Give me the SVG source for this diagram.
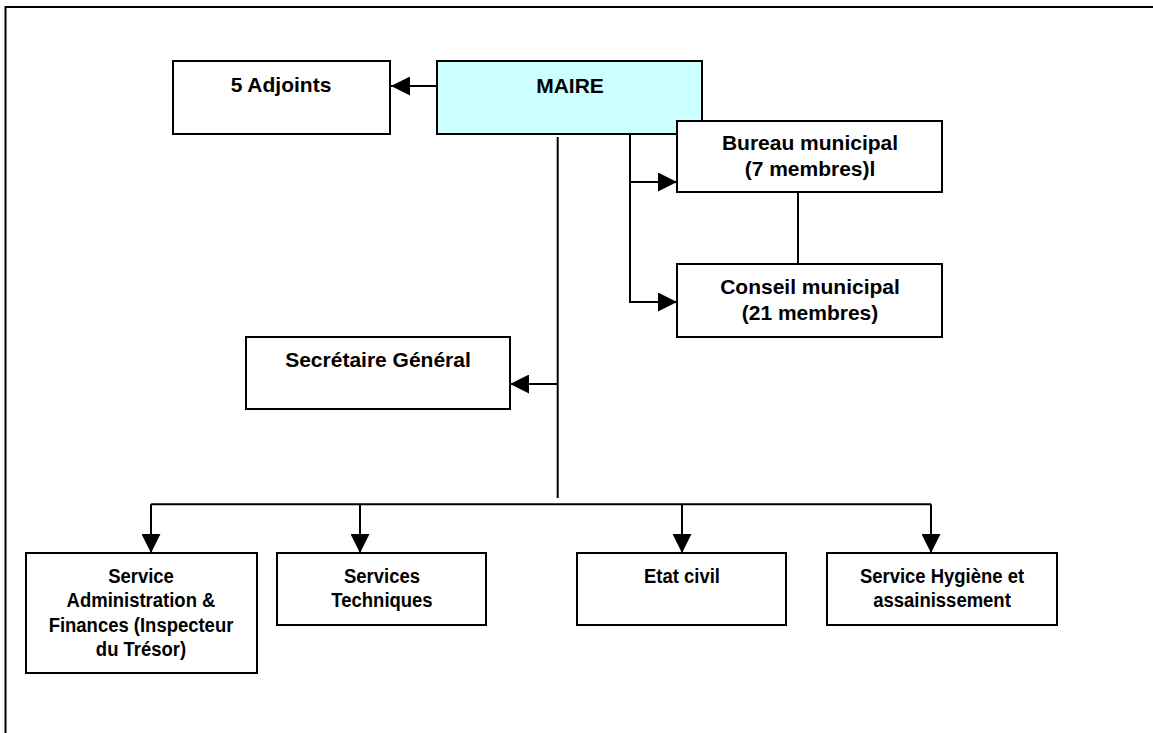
<svg xmlns="http://www.w3.org/2000/svg" width="1153" height="733" viewBox="0 0 1153 733">
  <style>
    .box { fill: #ffffff; stroke: #000000; stroke-width: 2; }
    .maire { fill: #ccffff; stroke: #000000; stroke-width: 2; }
    .lbl { font-family: "Liberation Sans", Arial, sans-serif; font-weight: bold; font-size: 21px; fill: #000000; text-anchor: middle; }
    .conn { fill: none; stroke: #000000; stroke-width: 2; }
  </style>
  <defs>
    <marker id="arrow" viewBox="0 0 10 10" refX="10" refY="5" markerUnits="userSpaceOnUse" markerWidth="20" markerHeight="19" orient="auto">
      <path d="M0,0 L10,5 L0,10 Z" fill="#000000"/>
    </marker>
  </defs>

  <rect width="1153" height="733" fill="#ffffff"/>
  <!-- page frame (right and bottom edges fall outside the page) -->
  <rect x="5.5" y="7" width="1200" height="800" fill="none" stroke="#000000" stroke-width="2"/>

  <g id="connectors">
    <!-- maire to adjoints -->
    <path class="conn" d="M437,86 L391,86" marker-end="url(#arrow)"/>
    <!-- main trunk -->
    <path class="conn" d="M557.7,137 L557.7,498"/>
    <path class="conn" d="M557.7,384 L510,384" marker-end="url(#arrow)"/>
    <!-- maire to bureau / conseil -->
    <path class="conn" d="M630,134 L630,302 L677,302" marker-end="url(#arrow)"/>
    <path class="conn" d="M630,182 L677,182" marker-end="url(#arrow)"/>
    <path class="conn" d="M798,192 L798,264"/>
    <!-- services bus -->
    <path class="conn" d="M151,504.3 L931,504.3"/>
    <path class="conn" d="M151,504.3 L151,553" marker-end="url(#arrow)"/>
    <path class="conn" d="M360,504.3 L360,553" marker-end="url(#arrow)"/>
    <path class="conn" d="M682,504.3 L682,553" marker-end="url(#arrow)"/>
    <path class="conn" d="M931,504.3 L931,553" marker-end="url(#arrow)"/>
  </g>

  <g id="adjoints">
    <rect class="box" x="173" y="61" width="217" height="73"/>
    <text class="lbl" x="281" y="92">5 Adjoints</text>
  </g>

  <g id="maire">
    <rect class="maire" x="437" y="61" width="265" height="73"/>
    <text class="lbl" x="570" y="93">MAIRE</text>
  </g>

  <g id="bureau">
    <rect class="box" x="677" y="121" width="265" height="71"/>
    <text class="lbl" x="810" y="150">Bureau municipal</text>
    <text class="lbl" x="810" y="176">(7 membres)l</text>
  </g>

  <g id="conseil">
    <rect class="box" x="677" y="264" width="265" height="73"/>
    <text class="lbl" x="810" y="294">Conseil municipal</text>
    <text class="lbl" x="810" y="320">(21 membres)</text>
  </g>

  <g id="secretaire">
    <rect class="box" x="246" y="337" width="264" height="72"/>
    <text class="lbl" x="378" y="367">Secrétaire Général</text>
  </g>

  <g id="admin-finances">
    <rect class="box" x="26" y="553" width="231" height="120"/>
    <g transform="translate(141,0) scale(0.88,1)">
      <text class="lbl" x="0" y="583">Service</text>
      <text class="lbl" x="0" y="607.5">Administration &amp;</text>
      <text class="lbl" x="0" y="632">Finances (Inspecteur</text>
      <text class="lbl" x="0" y="656.5">du Trésor)</text>
    </g>
  </g>

  <g id="services-techniques">
    <rect class="box" x="277" y="553" width="209" height="72"/>
    <g transform="translate(382,0) scale(0.88,1)">
      <text class="lbl" x="0" y="583">Services</text>
      <text class="lbl" x="0" y="607.5">Techniques</text>
    </g>
  </g>

  <g id="etat-civil">
    <rect class="box" x="577" y="553" width="209" height="72"/>
    <g transform="translate(682,0) scale(0.88,1)">
      <text class="lbl" x="0" y="583">Etat civil</text>
    </g>
  </g>

  <g id="hygiene">
    <rect class="box" x="827" y="553" width="230" height="72"/>
    <g transform="translate(942,0) scale(0.88,1)">
      <text class="lbl" x="0" y="583">Service Hygiène et</text>
      <text class="lbl" x="0" y="607.5">assainissement</text>
    </g>
  </g>
</svg>
